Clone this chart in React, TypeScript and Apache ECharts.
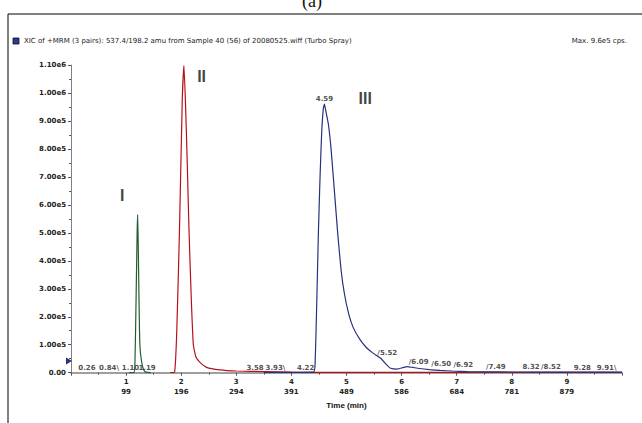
import React, { useEffect, useRef } from "react";
import * as echarts from "echarts";

// Retention time (min) and intensity (x1e5 cps) for each trace
const greenTime = [1.05, 1.14, 1.16, 1.18, 1.2, 1.21, 1.22, 1.235, 1.25, 1.28, 1.32, 1.36, 1.45];
const greenInt = [0, 0, 0.3, 2.5, 5.0, 5.65, 4.6, 2.5, 1.0, 0.4, 0.1, 0.02, 0];

const redTime = [1.8, 1.88, 1.92, 1.97, 2.02, 2.05, 2.08, 2.11, 2.14, 2.18, 2.22, 2.27, 2.35, 2.46, 2.7, 3.0, 3.5, 4.0, 5.0, 7.0, 10.0];
const redInt = [0, 0.02, 1.5, 5.2, 9.8, 10.98, 9.5, 7.5, 5.2, 2.8, 1.0, 0.55, 0.35, 0.19, 0.1, 0.06, 0.04, 0.02, 0.01, 0.01, 0.01];

const blueTime = [3.5, 4.4, 4.43, 4.46, 4.49, 4.52, 4.55, 4.58, 4.6, 4.63, 4.67, 4.72, 4.78, 4.84, 4.9, 4.96, 5.04, 5.12, 5.24, 5.36, 5.48, 5.56, 5.63, 5.72, 5.8, 5.92, 6.02, 6.1, 6.2, 6.32, 6.5, 6.7, 6.92, 7.2, 7.5, 8.0, 9.0, 10.0];
const blueInt = [0.01, 0.02, 0.3, 2.5, 5.0, 7.0, 8.6, 9.45, 9.6, 9.3, 8.9, 8.0, 6.5, 5.0, 3.7, 2.85, 2.1, 1.62, 1.2, 0.9, 0.7, 0.6, 0.5, 0.3, 0.16, 0.13, 0.18, 0.22, 0.19, 0.15, 0.11, 0.08, 0.06, 0.04, 0.03, 0.025, 0.02, 0.02];

// Scan numbers shown under the time ticks 1..9
const scanLabels = ["99", "196", "294", "391", "489", "586", "684", "781", "879"];

// Peak annotation texts and where they sit (time, intensity x1e5)
const annText = ["0.26", "0.84\\", "1.10", "1.19", "3.58", "3.93\\", "4.22", "4.59", "/5.52", "/6.09", "/6.50", "/6.92", "/7.49", "8.32", "/8.52", "9.28", "9.91\\"];
const annTime = [0.29, 0.69, 1.08, 1.38, 3.34, 3.71, 4.26, 4.6, 5.74, 6.31, 6.72, 7.12, 7.71, 8.35, 8.71, 9.28, 9.72];
const annInt = [0.17, 0.17, 0.17, 0.17, 0.17, 0.17, 0.17, 9.79, 0.7, 0.38, 0.31, 0.28, 0.21, 0.21, 0.21, 0.17, 0.17];

const romanText = ["I", "II", "III"];
const romanTime = [0.93, 2.37, 5.34];
const romanInt = [6.35, 10.6, 9.8];

const SCALE = 1e5;

function pairs(t: number[], v: number[]) {
  return t.map((x, i) => [x, v[i] * SCALE]);
}

function fmtY(v: number) {
  if (v === 0) return "0.00";
  const e = Math.floor(Math.log10(v) + 1e-9);
  const m = v / Math.pow(10, e);
  return m.toFixed(2) + "e" + e;
}

export default function App() {
  const ref = useRef<HTMLDivElement>(null);
  useEffect(() => {
    if (!ref.current) return;
    const chart = echarts.init(ref.current, undefined, { renderer: "svg" });
    const axisFont = { fontFamily: "DejaVu Sans", fontSize: 7, fontWeight: "bold" as const, color: "#222" };
    chart.setOption({
      animation: false,
      backgroundColor: "#fff",
      grid: { left: 71, top: 65, width: 551, height: 307.7, containLabel: false },
      xAxis: {
        type: "value",
        min: 0,
        max: 10,
        interval: 1,
        name: "Time (min)",
        nameLocation: "middle",
        nameGap: 27,
        nameTextStyle: { fontFamily: "Liberation Sans", fontSize: 8, fontWeight: "bold", color: "#111" },
        axisLine: { lineStyle: { color: "#808080", width: 1.5 } },
        axisTick: { show: true, length: 3, lineStyle: { color: "#555" } },
        minorTick: { show: true, splitNumber: 2, length: 2, lineStyle: { color: "#555" } },
        splitLine: { show: false },
        axisLabel: {
          ...axisFont,
          margin: 4,
          lineHeight: 10,
          formatter: (v: number) => (v <= 0 || v >= 10 ? "" : v + "\n" + scanLabels[v - 1]),
        },
      },
      yAxis: {
        type: "value",
        min: 0,
        max: 1.1e6,
        interval: 1e5,
        axisLine: { show: true, lineStyle: { color: "#808080", width: 1 } },
        axisTick: { show: true, length: 3, lineStyle: { color: "#555" } },
        minorTick: { show: true, splitNumber: 2, length: 2, lineStyle: { color: "#555" } },
        splitLine: { show: false },
        axisLabel: { ...axisFont, margin: 5, formatter: fmtY },
      },
      graphic: [
        { type: "polyline", shape: { points: [[8, 430], [8, 14], [650, 14]] }, style: { stroke: "#000", lineWidth: 1, fill: "none" }, silent: true },
        { type: "text", x: 312, y: 1, style: { text: "(a)", font: "18px 'Liberation Serif'", fill: "#111", align: "center", verticalAlign: "middle" } },
        { type: "rect", shape: { x: 13, y: 38, width: 6, height: 6 }, style: { fill: "#2b3990", stroke: "#111", lineWidth: 0.8 } },
        { type: "text", x: 24, y: 41, style: { text: "XIC of +MRM (3 pairs): 537.4/198.2 amu from Sample 40 (56) of 20080525.wiff (Turbo Spray)", font: "7px 'DejaVu Sans'", fill: "#222", verticalAlign: "middle" } },
        { type: "text", x: 627, y: 41, style: { text: "Max. 9.6e5 cps.", font: "7px 'DejaVu Sans'", fill: "#222", align: "right", verticalAlign: "middle" } },
      ],
      series: [
        {
          name: "I",
          type: "line",
          data: pairs(greenTime, greenInt),
          showSymbol: false,
          smooth: 0.15,
          lineStyle: { color: "#1f5f2f", width: 1.2 },
          itemStyle: { color: "#1f5f2f" },
        },
        {
          name: "II",
          type: "line",
          data: pairs(redTime, redInt),
          showSymbol: false,
          smooth: 0.15,
          lineStyle: { color: "#b5121b", width: 1.2 },
          itemStyle: { color: "#b5121b" },
        },
        {
          name: "III",
          type: "line",
          data: pairs(blueTime, blueInt),
          showSymbol: false,
          smooth: 0.15,
          lineStyle: { color: "#28307f", width: 1.2 },
          itemStyle: { color: "#28307f" },
          markPoint: {
            silent: true,
            symbol: "triangle",
            symbolSize: [7, 6],
            symbolRotate: -90,
            symbolOffset: [-2, 0],
            itemStyle: { color: "#28307f" },
            label: { show: false },
            data: [{ coord: [0, 0.42 * SCALE] }],
          },
        },
        {
          name: "annotations",
          type: "scatter",
          symbolSize: 0,
          silent: true,
          data: annText.map((s, i) => ({ name: s, value: [annTime[i], annInt[i] * SCALE] })),
          label: {
            show: true,
            position: "inside",
            formatter: (p: any) => p.name,
            ...axisFont,
          },
        },
        {
          name: "peaks",
          type: "scatter",
          symbolSize: 0,
          silent: true,
          data: romanText.map((s, i) => ({ name: s, value: [romanTime[i], romanInt[i] * SCALE] })),
          label: {
            show: true,
            position: "inside",
            formatter: (p: any) => p.name,
            fontFamily: "Liberation Sans",
            fontSize: 16,
            fontWeight: "bold",
            color: "#111",
          },
        },
      ],
    });
    return () => chart.dispose();
  }, []);
  return (
    <div
      ref={ref}
      style={{ position: "absolute", left: 0, top: 0, width: 642, height: 423, background: "#fff" }}
    />
  );
}
